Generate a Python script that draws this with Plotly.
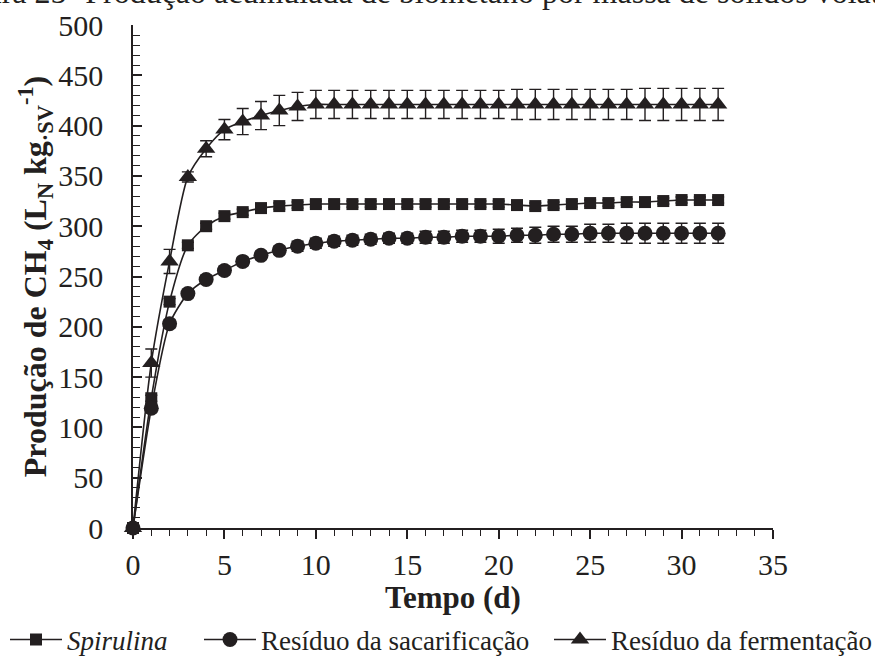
import plotly.graph_objects as go

days = list(range(0, 33))

spirulina = [0, 129, 225, 281, 300, 310, 314, 318, 320, 321, 322, 322, 322, 322, 322, 322, 322,
             322, 322, 322, 322, 321, 320, 321, 322, 323, 323, 324, 324, 325, 326, 326, 326]
spirulina_err = [0, 3, 3, 3, 3, 3, 3, 3, 3, 3, 3, 3, 3, 3, 3, 3, 3,
                 3, 3, 3, 3, 3, 3, 3, 3, 3, 3, 3, 3, 3, 3, 3, 3]

sacarificacao = [0, 119, 203, 233, 247, 256, 265, 271, 276, 280, 283, 285, 286, 287, 288, 288, 289,
                 289, 290, 290, 290, 291, 291, 292, 292, 293, 293, 293, 293, 293, 293, 293, 293]
sacarificacao_err = [0, 4, 4, 4, 4, 4, 4, 4, 4, 5, 5, 5, 5, 5, 5, 5, 6,
                     6, 6, 6, 7, 7, 8, 8, 8, 9, 9, 10, 10, 10, 10, 10, 10]

fermentacao = [0, 164, 265, 349, 377, 396, 404, 410, 415, 419, 421, 421, 421, 421, 421, 421, 421,
               421, 421, 421, 421, 421, 421, 421, 421, 421, 421, 421, 421, 421, 421, 421, 421]
fermentacao_err = [0, 14, 12, 5, 8, 10, 13, 14, 15, 14, 14, 14, 14, 14, 14, 14, 14,
                   14, 14, 14, 14, 15, 15, 15, 15, 15, 15, 15, 16, 16, 16, 16, 16]

series_names = ["<i>Spirulina</i>", "Resíduo da sacarificação", "Resíduo da fermentação"]
caption = "Figura 25- Produção acumulada de biometano por massa de sólidos voláteis"

FONT = "Liberation Serif"
BLACK = "#231f20"
W, H = 875, 662

fig = go.Figure()

def add_series(y, err, name, symbol, size, legend):
    fig.add_trace(go.Scatter(
        x=days, y=y, name=name, mode="lines+markers", legend=legend,
        line=dict(color=BLACK, width=1.6, shape="spline", smoothing=0.7),
        marker=dict(symbol=symbol, size=size, color=BLACK),
        error_y=dict(type="data", array=err, visible=True, color=BLACK,
                     thickness=1.4, width=6),
        cliponaxis=False,
    ))

add_series(spirulina, spirulina_err, series_names[0], "square", 12, "legend")
add_series(sacarificacao, sacarificacao_err, series_names[1], "circle", 15, "legend2")
add_series(fermentacao, fermentacao_err, series_names[2], "triangle-up", 16, "legend3")

def legend_at(px):
    return dict(orientation="h", xref="container", yref="container",
                x=px / W, y=(H - 640) / H, xanchor="left", yanchor="middle",
                font=dict(family=FONT, size=27, color=BLACK),
                itemwidth=52, bgcolor="rgba(0,0,0,0)")

fig.update_layout(
    width=W, height=H,
    margin=dict(l=133, r=102, t=25, b=134, autoexpand=False),
    paper_bgcolor="white", plot_bgcolor="white",
    font=dict(family=FONT, size=30, color=BLACK),
    showlegend=True,
    legend=legend_at(5),
    legend2=legend_at(199),
    legend3=legend_at(549),
    xaxis=dict(
        range=[0, 35], dtick=5, tick0=0,
        showline=True, linecolor=BLACK, linewidth=1.6,
        ticks="outside", ticklen=9, tickwidth=1.5, tickcolor=BLACK,
        minor=dict(dtick=1, ticks="outside", ticklen=6, tickwidth=1.3, tickcolor=BLACK),
        showgrid=False, zeroline=False,
        tickfont=dict(family=FONT, size=30, color=BLACK),
        title=dict(text="<b>Tempo (d)</b>", font=dict(family=FONT, size=31, color=BLACK)),
    ),
    yaxis=dict(
        range=[0, 500], dtick=50, tick0=0,
        showline=True, linecolor=BLACK, linewidth=1.6,
        ticks="inside", ticklen=9, tickwidth=1.5, tickcolor=BLACK,
        minor=dict(dtick=10, ticks="inside", ticklen=7, tickwidth=1.3, tickcolor=BLACK),
        showgrid=False, zeroline=False,
        ticklabelstandoff=22,
        tickfont=dict(family=FONT, size=30, color=BLACK),
        title=dict(text="<b>Produção de CH<sub>4</sub> (L<sub>N</sub> kg<sub>·SV</sub><sup>-1</sup>)</b>",
                   font=dict(family=FONT, size=32, color=BLACK), standoff=2),
    ),
    annotations=[dict(
        text=caption, xref="paper", yref="paper",
        x=-0.3, y=1.0258, xanchor="left", yanchor="bottom",
        showarrow=False, font=dict(family=FONT, size=32, color=BLACK),
    )],
)

fig.write_html("out.html")
